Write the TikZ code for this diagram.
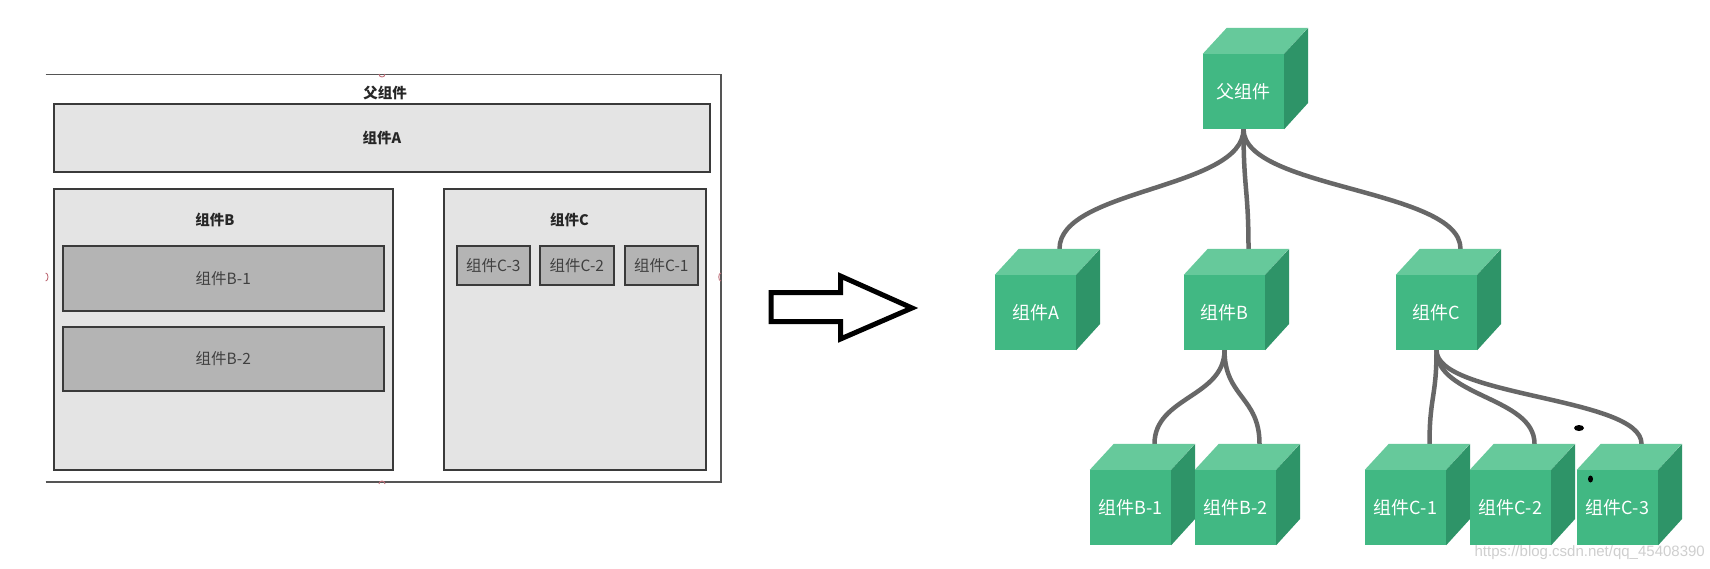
\documentclass[tikz,border=0pt]{standalone}
\usepackage{fontspec}
\newfontfamily\cjk{Noto Sans CJK SC}
\newfontfamily\wmfont{Liberation Sans}
\usetikzlibrary{calc}
\definecolor{boxfill}{HTML}{E4E4E4}
\definecolor{innerfill}{HTML}{B4B4B4}
\definecolor{boxline}{HTML}{3A3A3A}
\definecolor{framec}{HTML}{555555}
\definecolor{cfront}{HTML}{41B883}
\definecolor{ctop}{HTML}{66C99B}
\definecolor{cright}{HTML}{2E9468}
\definecolor{linkc}{HTML}{676767}
\definecolor{handlec}{HTML}{C0707A}
\definecolor{wmc}{HTML}{CFCFCF}
\pgfdeclarelayer{back}
\pgfdeclarelayer{bg}
\pgfsetlayers{back,bg,main}
\tikzset{
  outerbox/.style={draw=boxline, line width=2pt, fill=boxfill, inner sep=0pt,
    font=\cjk\bfseries\fontsize{14.5}{16}\selectfont, text=black!85},
  innerbox/.style={draw=boxline, line width=2pt, fill=innerfill, inner sep=0pt,
    font=\cjk\fontsize{15.5}{17}\selectfont, text=black!75},
  boldlbl/.style={font=\cjk\bfseries\fontsize{14.5}{16}\selectfont, text=black!85, inner sep=0pt},
  cubefront/.style={fill=cfront, minimum width=81pt, minimum height=75pt, inner sep=0pt,
    text=white, font=\cjk\fontsize{18}{20}\selectfont},
  link/.style={draw=linkc, line width=4.5pt, line cap=round},
  handle/.style={draw=handlec, line width=0.9pt},
  framel/.style={draw=framec},
  bigarrow/.style={draw=black, line width=5pt, fill=white, line join=miter},
  wm/.style={font=\wmfont\fontsize{15}{17}\selectfont, text=wmc, inner sep=0pt}
}
\newcommand\mkcube[4]{%
  \node[cubefront] (#1) at (#2+40.5,#3+37.5) {#4};
  \fill[ctop] (#1.north west) -- ++(24,-26) -- ++(81,0) -- (#1.north east) -- cycle;
  \fill[cright] (#1.north east) -- ++(24,-26) -- ++(0,75) -- (#1.south east) -- cycle;
  \coordinate (#1-in) at ($(#1.north)+(24,-26)$);
}
\begin{document}
\begin{tikzpicture}[x=1pt,y=-1pt]
\begin{pgfonlayer}{back}
\fill[white] (0,0) rectangle (1710,568);
\end{pgfonlayer}
\useasboundingbox (0,0) rectangle (1710,568);

% ---------- left panel ----------
\draw[framel, line width=1pt] (45.7,74) -- (721,74);
\draw[framel, line width=1.3pt] (721,74) -- (721,483);
\draw[framel, line width=2pt] (45.7,482) -- (721,482);
\draw[handle] (379,74) .. controls (379,78) and (385,78) .. (385,74);
\draw[handle] (379,484) .. controls (379,480) and (385,480) .. (385,484);
\draw[handle] (45.7,273) .. controls (48.7,273) and (48.7,281) .. (45.7,281);
\draw[handle] (721,273) .. controls (718,273) and (718,281) .. (721,281);

\node[boldlbl] (parentlbl) at (385,93) {父组件};
\node[outerbox, minimum width=656pt, minimum height=68pt] (boxA) at (382,138) {组件A};
\node[outerbox, minimum width=339pt, minimum height=281pt] (boxB) at (223.3,329.5) {};
\node[outerbox, minimum width=262.5pt, minimum height=281pt] (boxC) at (575,329.5) {};
\node[boldlbl] (lblB) at (215,220) {组件B};
\node[boldlbl] (lblC) at (569.5,220) {组件C};
\node[innerbox, minimum width=321pt, minimum height=65pt] (boxB1) at (223.3,278.5) {组件B-1};
\node[innerbox, minimum width=321pt, minimum height=64pt] (boxB2) at (223.3,359) {组件B-2};
\node[innerbox, minimum width=73.6pt, minimum height=39pt] (boxC3) at (493.3,265.5) {组件C-3};
\node[innerbox, minimum width=73.6pt, minimum height=39pt] (boxC2) at (576.8,265.5) {组件C-2};
\node[innerbox, minimum width=73.6pt, minimum height=39pt] (boxC1) at (661.3,265.5) {组件C-1};

% ---------- arrow ----------
\draw[bigarrow] (771,292.5) -- (840.5,292.5) -- (840.5,276) -- (912,308) -- (840.5,339) -- (840.5,321.5) -- (771,321.5) -- cycle;

% ---------- tree of cubes ----------
\mkcube{P}{1203}{54}{父组件}
\mkcube{A}{995}{275}{组件A}
\mkcube{B}{1184}{275}{组件B}
\mkcube{C}{1396}{275}{组件C}
\mkcube{B1}{1090}{470}{组件B-1}
\mkcube{B2}{1195}{470}{组件B-2}
\mkcube{C1}{1365}{470}{组件C-1}
\mkcube{C2}{1470}{470}{组件C-2}
\mkcube{C3}{1577}{470}{组件C-3}

\begin{pgfonlayer}{bg}
\draw[link] (P.south) .. controls +(0,60) and +(0,-60) .. (A-in);
\draw[link] (P.south) .. controls +(0,60) and +(0,-60) .. (B-in);
\draw[link] (P.south) .. controls +(0,60) and +(0,-60) .. (C-in);
\draw[link] (B.south) .. controls +(0,47) and +(0,-47) .. (B1-in);
\draw[link] (B.south) .. controls +(0,47) and +(0,-47) .. (B2-in);
\draw[link] (C.south) .. controls +(0,47) and +(0,-47) .. (C1-in);
\draw[link] (C.south) .. controls +(0,47) and +(0,-47) .. (C2-in);
\draw[link] (C.south) .. controls +(0,47) and +(0,-47) .. (C3-in);
\end{pgfonlayer}

% stray marks
\fill[black] (1579,428) ellipse [x radius=5pt, y radius=3pt];
\fill[black] (1590.5,479) ellipse [x radius=2.5pt, y radius=3.5pt];

% watermark
\node[wm, anchor=east] (wmark) at (1705,553) {https://blog.csdn.net/qq\_45408390};
\end{tikzpicture}
\end{document}
